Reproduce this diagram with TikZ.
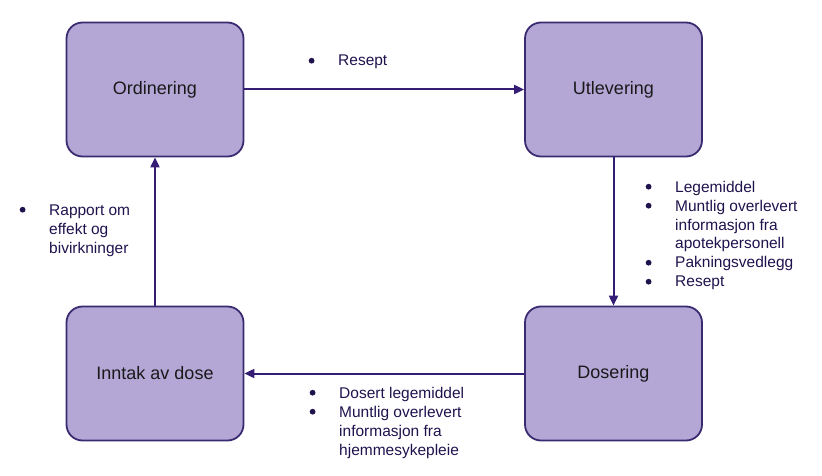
\documentclass[tikz,border=0pt]{standalone}
\usepackage{fontspec}
\setmainfont{Liberation Sans}
\usetikzlibrary{arrows.meta}
\definecolor{boxfill}{HTML}{B4A7D6}
\definecolor{boxline}{HTML}{3A2A70}
\definecolor{labtext}{HTML}{20124D}
\definecolor{arrcol}{HTML}{351C75}
\newcommand{\bl}{\makebox[29.5pt][l]{\tikz[baseline=-5.3pt]\fill[labtext] (2.9pt,0pt) circle (2.9pt);}}
\newcommand{\nb}{\makebox[29.5pt][l]{}}
\tikzset{
  stagebox/.style={draw=boxline, line width=1.8pt, fill=boxfill, rounded corners=16pt,
    minimum width=177pt, minimum height=134pt, inner sep=0pt,
    font=\fontsize{18}{22}\selectfont, text=black!90},
  flow/.style={draw=arrcol, line width=2pt, -{Triangle[length=10pt,width=9pt]}},
  lab/.style={anchor=base west, inner sep=0pt, text=labtext, font=\fontsize{15.5}{19}\selectfont}
}
\begin{document}
\begin{tikzpicture}[x=1pt,y=-1pt]
\useasboundingbox (0,0) rectangle (822,476);
\node[stagebox] (ord) at (155,89.5) {Ordinering};
\node[stagebox] (utl) at (613.5,89.5) {Utlevering};
\node[stagebox] (inn) at (155,373.5) {Inntak av dose};
\node[stagebox] (dos) at (613.5,373.5) {Dosering};
\draw[flow] (ord) -- (utl);
\draw[flow] (utl) -- (dos);
\draw[flow] (dos) -- (inn);
\draw[flow] (inn) -- (ord);
\node[lab] (l1) at (308.5,66) {\begin{tabular}[t]{@{}l@{}}\bl Resept\end{tabular}};
\node[lab] (l2) at (645.5,192) {\begin{tabular}[t]{@{}l@{}}\bl Legemiddel\\ \bl Muntlig overlevert\\ \nb informasjon fra\\ \nb apotekpersonell\\ \bl Pakningsvedlegg\\ \bl Resept\end{tabular}};
\node[lab] (l3) at (19.5,215) {\begin{tabular}[t]{@{}l@{}}\bl Rapport om\\ \nb effekt og\\ \nb bivirkninger\end{tabular}};
\node[lab] (l4) at (309.5,398) {\begin{tabular}[t]{@{}l@{}}\bl Dosert legemiddel\\ \bl Muntlig overlevert\\ \nb informasjon fra\\ \nb hjemmesykepleie\end{tabular}};
\end{tikzpicture}
\end{document}
